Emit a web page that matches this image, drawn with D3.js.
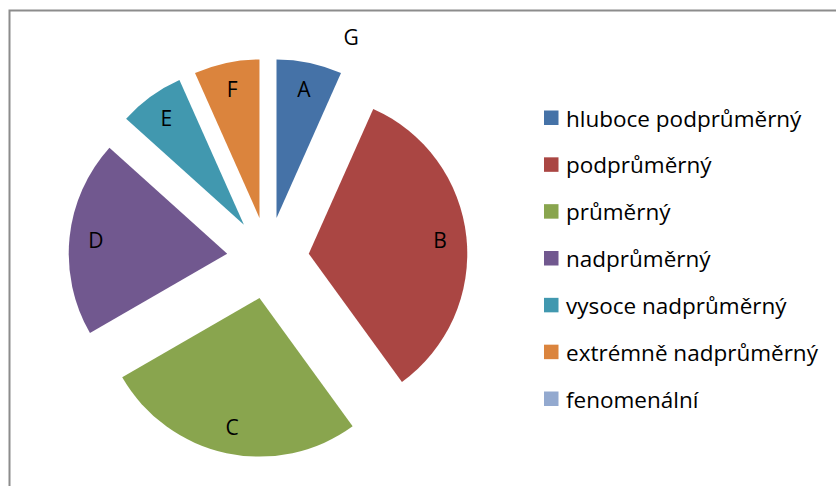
<!DOCTYPE html>
<html><head><meta charset="utf-8">
<script src="https://cdn.jsdelivr.net/npm/d3@7"></script>
<style>body{margin:0;background:#fff}svg{display:block}</style>
</head><body>
<svg id="c" width="836" height="486"></svg>
<script>
const labels = ["A","B","C","D","E","F","G"];
const categories = ["hluboce podprůměrný","podprůměrný","průměrný","nadprůměrný","vysoce nadprůměrný","extrémně nadprůměrný","fenomenální"];
const values = [1,5,4,3,1,1,0];
const colors = ["#4572A7","#AA4643","#89A54E","#71588F","#4198AF","#DB843D","#93A9CF"];

const svg = d3.select("#c");
const font = "'Open Sans', Calibri, sans-serif";
// frame
svg.append("rect").attr("x",9.5).attr("y",10.5).attr("width",840).attr("height",490)
  .attr("fill","none").attr("stroke","#8c8c8c").attr("stroke-width",2);

const cx = 268, cy = 258, r = 158.5, explode = 41;
const data = labels.map((l,i)=>({label:l, cat:categories[i], value:values[i], color:colors[i]}));
const pie = d3.pie().value(d=>d.value).sort(null);
const arcs = pie(data);
const arc = d3.arc().innerRadius(0).outerRadius(r);
const g = svg.append("g").attr("transform",`translate(${cx},${cy})`);

arcs.forEach(a=>{
  const mid = (a.startAngle+a.endAngle)/2;
  const ox = explode*Math.sin(mid), oy = -explode*Math.cos(mid);
  if (a.data.value > 0) {
    g.append("path").attr("d",arc(a)).attr("fill",a.data.color)
      .attr("transform",`translate(${ox},${oy})`);
    const lr = 132;
    g.append("text").attr("x",ox+lr*Math.sin(mid)).attr("y",oy-lr*Math.cos(mid))
      .attr("text-anchor","middle").attr("dominant-baseline","central")
      .attr("font-family",font).attr("font-size",21).attr("fill","#000").text(a.data.label);
  } else {
    // zero slice label placed outside the pie top
    const ang = 0.36, lr = 236;
    g.append("text").attr("x",lr*Math.sin(ang)).attr("y",-lr*Math.cos(ang))
      .attr("text-anchor","middle").attr("dominant-baseline","central")
      .attr("font-family",font).attr("font-size",21).attr("fill","#000").text(a.data.label);
  }
});

// legend
const y = d3.scalePoint().domain(categories).range([118,399]);
const lg = svg.append("g");
categories.forEach((c,i)=>{
  lg.append("rect").attr("x",544).attr("y",y(c)-7.5).attr("width",14.5).attr("height",14.5).attr("fill",colors[i]);
  lg.append("text").attr("x",566).attr("y",y(c)).attr("dominant-baseline","central")
    .attr("font-family",font).attr("font-size",22.5).attr("fill","#000").text(c);
});
</script>
</body></html>
